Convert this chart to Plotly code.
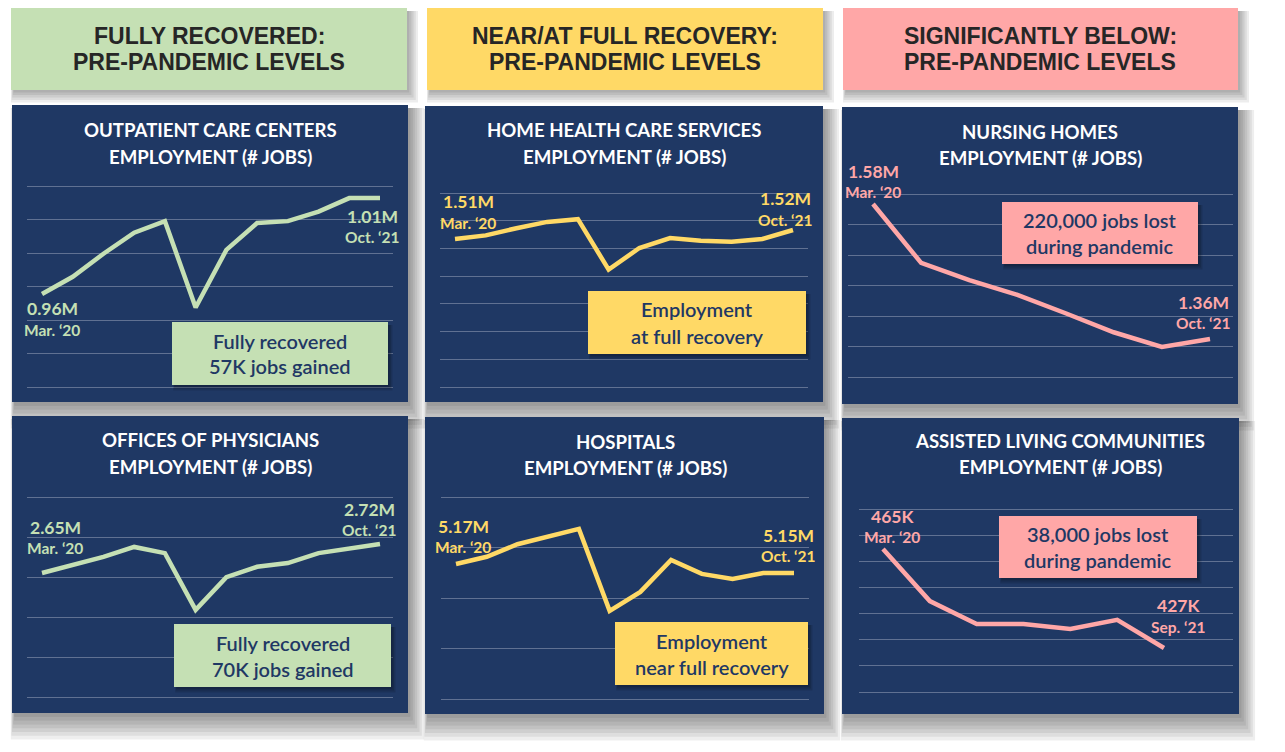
import numpy as np
import plotly.graph_objects as go

W, H = 1285, 752

# ---------------- data ----------------
outpatient_jobs_m = [0.960, 0.969, 0.981, 0.992, 0.998, 0.953, 0.983, 0.997, 0.998, 1.003, 1.010, 1.010]
home_health_jobs_m = [1.510, 1.514, 1.522, 1.529, 1.532, 1.476, 1.500, 1.511, 1.508, 1.507, 1.510, 1.520]
nursing_jobs_m = [1.580, 1.484, 1.456, 1.432, 1.402, 1.371, 1.347, 1.360]
physicians_jobs_m = [2.650, 2.669, 2.689, 2.713, 2.698, 2.561, 2.640, 2.665, 2.674, 2.698, 2.710, 2.720]
hospitals_jobs_m = [5.170, 5.186, 5.214, 5.232, 5.248, 5.066, 5.108, 5.179, 5.148, 5.137, 5.150, 5.150]
assisted_jobs_k = [465.0, 445.0, 436.2, 436.2, 434.3, 437.8, 427.0]

header_titles = [
    ["FULLY RECOVERED:", "PRE-PANDEMIC LEVELS"],
    ["NEAR/AT FULL RECOVERY:", "PRE-PANDEMIC LEVELS"],
    ["SIGNIFICANTLY BELOW:", "PRE-PANDEMIC LEVELS"],
]
panel_titles = [
    ["OUTPATIENT CARE CENTERS", "EMPLOYMENT (# JOBS)"],
    ["HOME HEALTH CARE SERVICES", "EMPLOYMENT (# JOBS)"],
    ["NURSING HOMES", "EMPLOYMENT (# JOBS)"],
    ["OFFICES OF PHYSICIANS", "EMPLOYMENT (# JOBS)"],
    ["HOSPITALS", "EMPLOYMENT (# JOBS)"],
    ["ASSISTED LIVING COMMUNITIES", "EMPLOYMENT (# JOBS)"],
]
start_values = ["0.96M", "1.51M", "1.58M", "2.65M", "5.17M", "465K"]
start_dates = ["Mar. ‘20", "Mar. ‘20", "Mar. ‘20", "Mar. ‘20", "Mar. ‘20", "Mar. ‘20"]
end_values = ["1.01M", "1.52M", "1.36M", "2.72M", "5.15M", "427K"]
end_dates = ["Oct. ‘21", "Oct. ‘21", "Oct. ‘21", "Oct. ‘21", "Oct. ‘21", "Sep. ‘21"]
callout_texts = [
    ["Fully recovered", "57K jobs gained"],
    ["Employment", "at full recovery"],
    ["220,000 jobs lost", "during pandemic"],
    ["Fully recovered", "70K jobs gained"],
    ["Employment", "near full recovery"],
    ["38,000 jobs lost", "during pandemic"],
]
series = [outpatient_jobs_m, home_health_jobs_m, nursing_jobs_m,
          physicians_jobs_m, hospitals_jobs_m, assisted_jobs_k]

# ---------------- styles / layout geometry (pixels) ----------------
NAVY = "#1F3864"
GREEN = "#C5E0B4"
YELLOW = "#FFD966"
PINK = "#FFA7A7"
header_colors = [GREEN, YELLOW, PINK]
panel_colors = [GREEN, YELLOW, PINK, GREEN, YELLOW, PINK]

header_rects = [(11, 8, 407, 90), (427, 8, 823, 90), (843, 8, 1238, 90)]
header_cx = [209, 625, 1040]
header_ys = [36, 62]

panels = [
    dict(rect=(12, 105, 408, 402), grid=(27, 186, 393, 387), pts=(42, 380), yr=(0.9116, 1.0163), ng=7,
         tcx=210, tys=(130, 157), s_shift=(10, -14, -36), e_shift=(-8, -18, -39),
         box=(172, 322, 388, 385)),
    dict(rect=(425, 106, 823, 402), grid=(440, 193, 808, 387), pts=(455, 793), yr=(1.3456, 1.5611), ng=8,
         tcx=624, tys=(130, 157), s_shift=(13, 37, 16), e_shift=(-8, 31, 10),
         box=(588, 291, 806, 354)),
    dict(rect=(842, 107, 1238, 404), grid=(848, 194, 1233, 377), pts=(873, 1210), yr=(1.2981, 1.5963), ng=7,
         tcx=1040, tys=(132, 158), s_shift=(0, 32, 12), e_shift=(-7, 37, 16),
         box=(1002, 202, 1198, 264)),
    dict(rect=(12, 416, 408, 713), grid=(27, 497, 393, 697), pts=(42, 380), yr=(2.3507, 2.8335), ng=6,
         tcx=210, tys=(440, 467), s_shift=(13, 46, 25), e_shift=(-11, 35, 14),
         box=(174, 624, 391, 687)),
    dict(rect=(425, 417, 824, 714), grid=(441, 497, 809, 699), pts=(456, 794), yr=(4.870, 5.3189), ng=5,
         tcx=625, tys=(442, 468), s_shift=(7, 38, 17), e_shift=(-6, 38, 17),
         box=(615, 622, 808, 685)),
    dict(rect=(842, 418, 1239, 714), grid=(859, 509, 1233, 692), pts=(883, 1164), yr=(410.1, 480.35), ng=8,
         tcx=1060, tys=(441, 467), s_shift=(9, 32, 12), e_shift=(14, 42, 21),
         box=(999, 516, 1197, 578)),
]


def fx(px):
    return px / W


def fy(py):
    return 1 - py / H


shapes = []
annotations = []


def rect(x0, y0, x1, y1, color, layer="below", opacity=1.0):
    shapes.append(dict(type="rect", xref="paper", yref="paper",
                       x0=fx(x0), x1=fx(x1), y0=fy(y1), y1=fy(y0),
                       fillcolor=color, line=dict(width=0), layer=layer, opacity=opacity))


def shadow(x0, y0, x1, y1, layer="below", n=6, dx=2.5, dy=4.0, op=0.07):
    for k in range(1, n + 1):
        rect(x0 + 3 - k * 0.6, y0 + 3, x1 + k * dx, y1 + k * dy, "#000000", layer, op)


def text(px, py, s, size, color, family="Lato", weight="normal"):
    annotations.append(dict(xref="paper", yref="paper", x=fx(px), y=fy(py), text=s,
                            showarrow=False, xanchor="center", yanchor="middle",
                            font=dict(family=family, size=size, color=color, weight=weight)))


# headers
for (x0, y0, x1, y1), col, cx, lines in zip(header_rects, header_colors, header_cx, header_titles):
    shadow(x0, y0, x1, y1, n=5, dx=2.2, dy=2.5, op=0.07)
    rect(x0, y0, x1, y1, col)
    for yy, ln in zip(header_ys, lines):
        text(cx, yy, ln, 23, "#262626", family="Liberation Sans", weight="bold")

fig = go.Figure()
layout_axes = {}

for i, (p, vals, col) in enumerate(zip(panels, series, panel_colors)):
    k = i + 1
    x0, y0, x1, y1 = p["rect"]
    shadow(x0, y0, x1, y1, n=7, dx=2.3, dy=3.8, op=0.065)
    rect(x0, y0, x1, y1, NAVY)

    gx0, gy0, gx1, gy1 = p["grid"]
    n = len(vals)
    p0, p1 = p["pts"]
    step = (p1 - p0) / (n - 1)
    xr = [-(p0 - gx0) / step, (n - 1) + (gx1 - p1) / step]
    lo, hi = p["yr"]
    per_px = (hi - lo) / (gy1 - gy0)
    pad = 2
    yr = [lo - pad * per_px, hi + pad * per_px]

    xa = "xaxis" if k == 1 else f"xaxis{k}"
    ya = "yaxis" if k == 1 else f"yaxis{k}"
    layout_axes[xa] = dict(domain=[fx(gx0), fx(gx1)], range=xr, showgrid=False, zeroline=False,
                           showticklabels=False, showline=False, ticks="", fixedrange=True,
                           anchor=f"y{k}")
    layout_axes[ya] = dict(domain=[fy(gy1 + pad), fy(gy0 - pad)], range=yr,
                           tickvals=list(np.linspace(lo, hi, p["ng"])),
                           showgrid=True, gridcolor="rgba(185,192,210,0.42)", gridwidth=1,
                           zeroline=False, showticklabels=False, showline=False, ticks="",
                           fixedrange=True, anchor=f"x{k}")

    fig.add_trace(go.Scatter(x=list(range(n)), y=vals, mode="lines",
                             line=dict(color=col, width=4.5), hoverinfo="skip",
                             showlegend=False, xaxis=f"x{k}", yaxis=f"y{k}"))

    # titles
    for yy, ln in zip(p["tys"], panel_titles[i]):
        text(p["tcx"], yy, ln, 18.6, "#FFFFFF", weight="bold")

    # start / end labels anchored on the data points
    sx, sy1, sy2 = p["s_shift"]
    ex, ey1, ey2 = p["e_shift"]
    for (xi, yi, dx, dy, s, size) in [
        (0, vals[0], sx, sy1, start_values[i], 17.5),
        (0, vals[0], sx, sy2, start_dates[i], 15.5),
        (n - 1, vals[-1], ex, ey1, end_values[i], 17.5),
        (n - 1, vals[-1], ex, ey2, end_dates[i], 15.5),
    ]:
        annotations.append(dict(xref=f"x{k}", yref=f"y{k}", x=xi, y=yi, xshift=dx, yshift=dy,
                                text=s, showarrow=False, xanchor="center", yanchor="middle",
                                font=dict(family="Lato", size=size, color=col, weight="bold")))

    # callout box
    bx0, by0, bx1, by1 = p["box"]
    shadow(bx0, by0, bx1, by1, layer="above", n=3, dx=1.5, dy=1.8, op=0.12)
    rect(bx0, by0, bx1, by1, col, layer="above")
    cx = (bx0 + bx1) / 2
    cy = (by0 + by1) / 2
    for yy, ln in zip([cy - 13, cy + 13], callout_texts[i]):
        text(cx, yy, ln, 20, NAVY, weight=600)

fig.update_layout(
    width=W, height=H,
    margin=dict(l=0, r=0, t=0, b=0, pad=0),
    paper_bgcolor="#FFFFFF",
    plot_bgcolor="rgba(0,0,0,0)",
    showlegend=False,
    shapes=shapes,
    annotations=annotations,
    **layout_axes,
)

fig.write_html("out.html", include_plotlyjs=True,
               config={"displayModeBar": False, "staticPlot": True},
               post_script="document.body.style.margin='0';document.body.style.overflow='hidden';")
